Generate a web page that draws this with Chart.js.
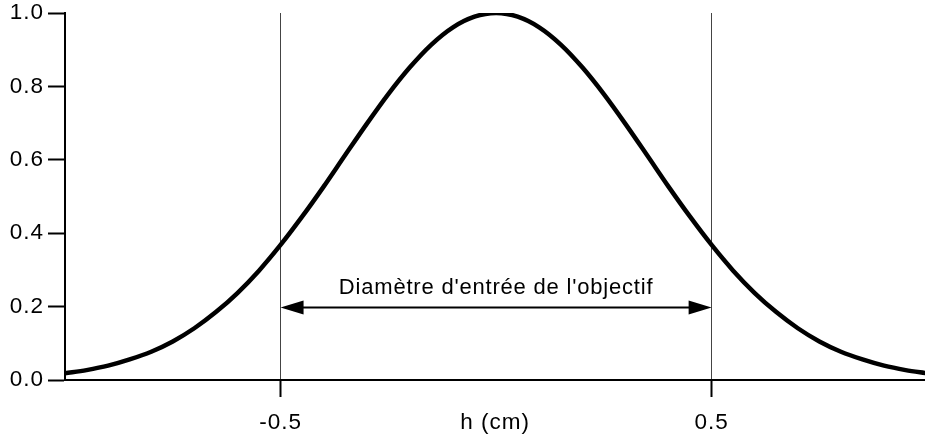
<!DOCTYPE html>
<html lang="fr">
<head>
<meta charset="utf-8">
<title>Profil gaussien</title>
<script src="https://cdn.jsdelivr.net/npm/chart.js@4"></script>
<style>
  html, body { margin: 0; padding: 0; background: #fff; }
  #wrap { width: 925px; height: 440px; position: relative; }
</style>
</head>
<body>
<div id="wrap"><canvas id="profil"></canvas></div>
<script>
// positions h (cm) et intensité relative
const hValues = [-1.00, -0.95, -0.90, -0.85, -0.80, -0.75, -0.70, -0.65, -0.60, -0.55,
                 -0.50, -0.45, -0.40, -0.35, -0.30, -0.25, -0.20, -0.15, -0.10, -0.05,
                  0.00,  0.05,  0.10,  0.15,  0.20,  0.25,  0.30,  0.35,  0.40,  0.45,
                  0.50,  0.55,  0.60,  0.65,  0.70,  0.75,  0.80,  0.85,  0.90,  0.95, 1.00];
const intensite = [0.018, 0.027, 0.039, 0.056, 0.077, 0.105, 0.141, 0.185, 0.237, 0.298,
                   0.368, 0.445, 0.527, 0.613, 0.698, 0.779, 0.852, 0.914, 0.961, 0.990,
                   1.000, 0.990, 0.961, 0.914, 0.852, 0.779, 0.698, 0.613, 0.527, 0.445,
                   0.368, 0.298, 0.237, 0.185, 0.141, 0.105, 0.077, 0.056, 0.039, 0.027, 0.018];

const xTicks = [-0.5, 0.5];
const yTicks = [0.0, 0.2, 0.4, 0.6, 0.8, 1.0];

// flèche du diamètre d'entrée
const flecheDe = -0.5;
const flecheA = 0.5;
const flecheY = 0.2;
const flecheTexte = "Diamètre d'entrée de l'objectif";

const police = "'Liberation Sans', Arial, Helvetica, sans-serif";
Chart.defaults.font.family = police;
Chart.defaults.font.size = 22.5;
Chart.defaults.color = '#000';

// léger espacement des lettres, comme la police d'origine
const espacement = {
  id: 'espacement',
  beforeDraw(chart) {
    chart.ctx.letterSpacing = '1px';
  }
};

const flechePlugin = {
  id: 'fleche',
  afterDatasetsDraw(chart) {
    const { ctx, scales } = chart;
    const x1 = scales.x.getPixelForValue(flecheDe);
    const x2 = scales.x.getPixelForValue(flecheA);
    const y = Math.round(scales.y.getPixelForValue(flecheY)) + 0.5;
    const tete = 23, demi = 7;
    ctx.save();
    ctx.strokeStyle = '#000';
    ctx.fillStyle = '#000';
    ctx.lineWidth = 2;
    ctx.beginPath();
    ctx.moveTo(x1 + tete - 2, y);
    ctx.lineTo(x2 - tete + 2, y);
    ctx.stroke();
    // pointes
    ctx.beginPath();
    ctx.moveTo(x1, y);
    ctx.lineTo(x1 + tete, y - demi);
    ctx.lineTo(x1 + tete, y + demi);
    ctx.closePath();
    ctx.fill();
    ctx.beginPath();
    ctx.moveTo(x2, y);
    ctx.lineTo(x2 - tete, y - demi);
    ctx.lineTo(x2 - tete, y + demi);
    ctx.closePath();
    ctx.fill();
    // libellé
    ctx.font = '22px ' + police;
    ctx.letterSpacing = '0.8px';
    ctx.textAlign = 'center';
    ctx.textBaseline = 'alphabetic';
    ctx.fillText(flecheTexte, (x1 + x2) / 2, y - 14);
    ctx.restore();
  }
};

new Chart(document.getElementById('profil'), {
  type: 'line',
  data: {
    datasets: [{
      data: hValues.map((h, i) => ({ x: h, y: intensite[i] })),
      borderColor: '#000',
      borderWidth: 4.5,
      pointRadius: 0,
      cubicInterpolationMode: 'monotone',
      fill: false
    }]
  },
  options: {
    responsive: true,
    maintainAspectRatio: false,
    animation: false,
    layout: { padding: { top: 13, right: 0, left: 0, bottom: 0 } },
    plugins: {
      legend: { display: false },
      tooltip: { enabled: false }
    },
    scales: {
      x: {
        type: 'linear',
        min: -1.0,
        max: 0.995,
        afterBuildTicks: scale => { scale.ticks = xTicks.map(v => ({ value: v })); },
        afterFit: scale => { scale.height = 60; },
        ticks: {
          padding: 12,
          callback: v => String(v)
        },
        grid: {
          drawOnChartArea: true,
          color: '#444',
          lineWidth: 1,
          tickLength: 17,
          tickWidth: 2,
          tickColor: '#000'
        },
        border: { display: true, color: '#000', width: 2 },
        title: {
          display: true,
          text: 'h (cm)',
          font: { size: 22.5, lineHeight: 1.2 },
          padding: { top: 0, bottom: 4 }
        }
      },
      y: {
        min: 0,
        max: 1,
        afterBuildTicks: scale => { scale.ticks = yTicks.map(v => ({ value: v })); },
        afterFit: scale => {
          scale.width = 65;
          scale.paddingTop = 0;
          scale.paddingBottom = 0;
        },
        ticks: {
          padding: 4,
          callback: v => v.toFixed(1)
        },
        grid: {
          drawOnChartArea: false,
          tickLength: 17,
          tickWidth: 2,
          tickColor: '#000'
        },
        border: { display: true, color: '#000', width: 2 }
      }
    }
  },
  plugins: [espacement, flechePlugin]
});
</script>
</body>
</html>
